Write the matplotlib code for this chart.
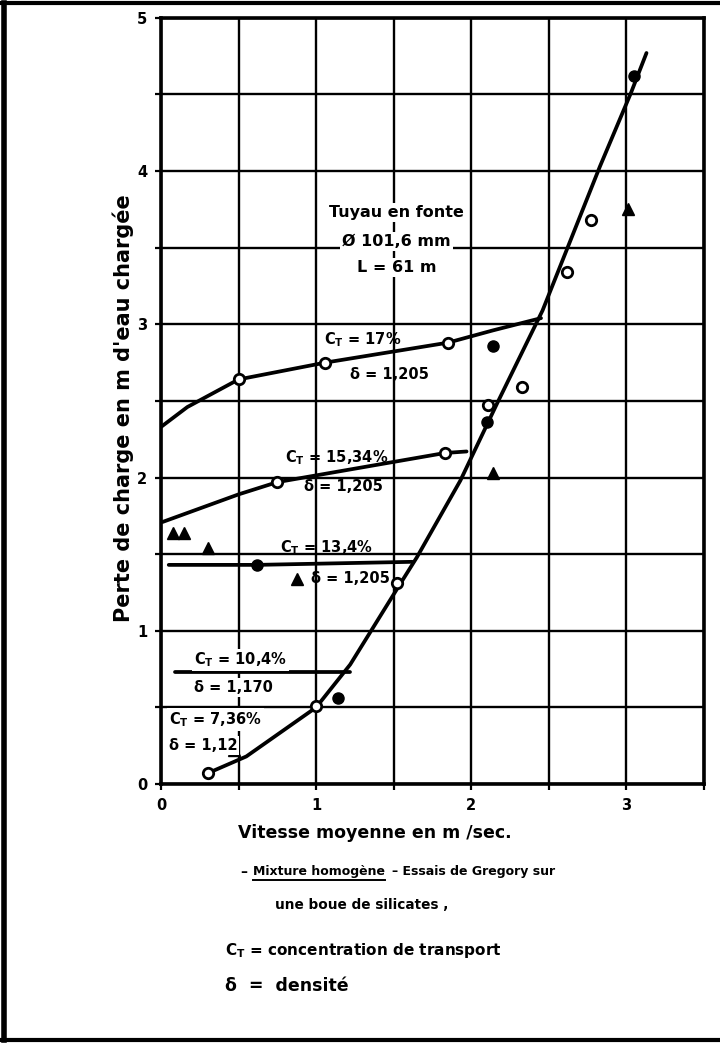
import numpy as np
import matplotlib
matplotlib.use("Agg")
import matplotlib.pyplot as plt
from matplotlib.ticker import MultipleLocator, FuncFormatter
from matplotlib.lines import Line2D

plt.rcParams['font.family'] = ['DejaVu Sans']
plt.rcParams['font.weight'] = 'bold'
plt.rcParams['mathtext.default'] = 'bf'

# courbes (vitesse m/s, perte de charge m)
v_17 = [0.0, 0.17, 0.50, 1.06, 1.85, 2.14, 2.45]
h_17 = [2.33, 2.46, 2.64, 2.75, 2.88, 2.96, 3.04]

v_1534 = [0.01, 0.50, 0.75, 1.83, 1.97]
h_1534 = [1.71, 1.89, 1.97, 2.16, 2.17]

v_134 = [0.05, 0.62, 1.62]
h_134 = [1.43, 1.43, 1.45]

v_104 = [0.09, 1.22]
h_104 = [0.73, 0.73]

v_main = [0.30, 0.55, 1.00, 1.22, 1.52, 1.65, 1.93, 2.17, 2.46, 2.83, 3.03, 3.13]
h_main = [0.07, 0.18, 0.50, 0.78, 1.27, 1.48, 1.98, 2.49, 3.09, 4.03, 4.51, 4.77]

# points de mesure
circ_v = [0.50, 1.06, 1.85, 0.75, 1.83, 0.30, 1.00, 1.52, 2.11, 2.33, 2.62, 2.77]
circ_h = [2.64, 2.75, 2.88, 1.97, 2.16, 0.07, 0.51, 1.31, 2.47, 2.59, 3.34, 3.68]
dot_v = [2.14, 0.62, 1.14, 2.10, 3.05]
dot_h = [2.86, 1.43, 0.56, 2.36, 4.62]
tri_v = [0.08, 0.15, 2.14, 0.30, 0.88, 0.47, 3.01]
tri_h = [1.64, 1.64, 2.03, 1.54, 1.34, 0.22, 3.75]

fig = plt.figure(figsize=(7.2, 10.44), dpi=100)
ax = fig.add_axes([0.2236, 0.249, 0.754, 0.734])

lw = 2.7
for xs, ys in [(v_17, h_17), (v_1534, h_1534), (v_134, h_134), (v_104, h_104), (v_main, h_main)]:
    ax.plot(xs, ys, color='black', lw=lw, solid_capstyle='round', zorder=4)

ax.plot(circ_v, circ_h, 'o', ms=7.5, mfc='white', mec='black', mew=2, zorder=5)
ax.plot(dot_v, dot_h, 'o', ms=8, color='black', zorder=5)
ax.plot(tri_v, tri_h, '^', ms=9, color='black', zorder=5)

ax.set_xlim(0, 3.5)
ax.set_ylim(0, 5)
ax.xaxis.set_major_locator(MultipleLocator(0.5))
ax.yaxis.set_major_locator(MultipleLocator(0.5))
fmt = FuncFormatter(lambda v, p: str(int(round(v))) if abs(v - round(v)) < 1e-6 else '')
ax.xaxis.set_major_formatter(fmt)
ax.yaxis.set_major_formatter(fmt)
ax.grid(True, color='black', lw=1.7)
ax.set_axisbelow(True)
ax.tick_params(length=4, width=1.6, labelsize=10.5, pad=6)
for s in ax.spines.values():
    s.set_linewidth(2.6)

ax.set_xlabel("Vitesse moyenne en m /sec.", fontsize=12.5, fontweight='bold')
ax.xaxis.set_label_coords(0.394, -0.052)
ax.set_ylabel("Perte de charge en m d'eau chargée", fontsize=15, fontweight='bold')
ax.yaxis.set_label_coords(-0.05, 0.49)

box = dict(fc='white', ec='none', pad=1.5)
tk = dict(fontsize=10.5, fontweight='bold', zorder=6)
ax.text(1.52, 3.73, "Tuyau en fonte", ha='center', va='center', bbox=box, fontsize=11.5, fontweight='bold', zorder=6)
ax.text(1.52, 3.54, "Ø 101,6 mm", ha='center', va='center', bbox=box, fontsize=11.5, fontweight='bold', zorder=6)
ax.text(1.52, 3.37, "L = 61 m", ha='center', va='center', bbox=box, fontsize=11.5, fontweight='bold', zorder=6)

ax.text(1.05, 2.90, "C$_T$ = 17%", ha='left', va='center', **tk)
ax.text(1.22, 2.67, "δ = 1,205", ha='left', va='center', **tk)
ax.text(0.80, 2.13, "C$_T$ = 15,34%", ha='left', va='center', **tk)
ax.text(0.92, 1.94, "δ = 1,205", ha='left', va='center', **tk)
ax.text(0.77, 1.54, "C$_T$ = 13,4%", ha='left', va='center', **tk)
ax.text(0.97, 1.34, "δ = 1,205", ha='left', va='center', **tk)
ax.text(0.21, 0.81, "C$_T$ = 10,4%", ha='left', va='center', bbox=box, **tk)
ax.text(0.21, 0.63, "δ = 1,170", ha='left', va='center', bbox=box, **tk)
ax.text(0.05, 0.42, "C$_T$ = 7,36%", ha='left', va='center', bbox=box, **tk)
ax.text(0.05, 0.25, "δ = 1,12", ha='left', va='center', bbox=box, **tk)

# legende du bas
fig.text(0.333, 0.165, "–", fontsize=10, fontweight='bold', va='center')
t = fig.text(0.352, 0.165, "Mixture homogène", fontsize=9, fontweight='bold', va='center')
fig.text(0.545, 0.165, "– Essais de Gregory sur", fontsize=9, fontweight='bold', va='center')
fig.text(0.382, 0.133, "une boue de silicates ,", fontsize=9.8, fontweight='bold', va='center')
fig.text(0.3125, 0.090, "C$_T$ = concentration de transport", fontsize=11, fontweight='bold', va='center')
fig.text(0.3125, 0.056, "δ  =  densité", fontsize=12.5, fontweight='bold', va='center')

fig.canvas.draw()
bb = t.get_window_extent().transformed(fig.transFigure.inverted())
fig.add_artist(Line2D([bb.x0, bb.x1], [bb.y0 - 0.002, bb.y0 - 0.002], color='black', lw=1.4))

# cadre de la page
fig.add_artist(Line2D([0.005, 0.005], [0.004, 0.997], color='black', lw=4))
fig.add_artist(Line2D([0.0, 1.0], [0.997, 0.997], color='black', lw=3))
fig.add_artist(Line2D([0.0, 1.0], [0.004, 0.004], color='black', lw=3))

fig.savefig("out.png", dpi=100)
